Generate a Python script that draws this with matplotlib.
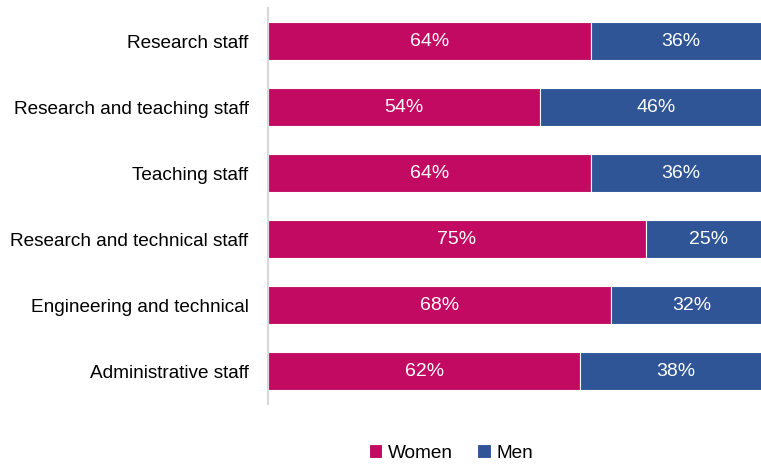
import numpy as np
import matplotlib.pyplot as plt

categories = ["Research staff", "Research and teaching staff", "Teaching staff",
              "Research and technical staff", "Engineering and technical",
              "Administrative staff"]
women = [64, 54, 64, 75, 68, 62]
men = [36, 46, 36, 25, 32, 38]

plt.rcParams['font.family'] = ['Liberation Sans', 'DejaVu Sans']

fig = plt.figure(figsize=(7.61, 4.65), dpi=100)
ax = fig.add_axes([268 / 761, 61 / 465, 504 / 761, 396 / 465])

y = np.arange(len(categories))
h = 0.58
c_w = "#C30A62"
c_m = "#2F5597"
ax.barh(y, women, height=h, color=c_w, edgecolor="white", linewidth=0.8, label="Women")
ax.barh(y, men, left=women, height=h, color=c_m, edgecolor="white", linewidth=0.8, label="Men")

for i in range(len(categories)):
    ax.text(women[i] / 2, y[i], f"{women[i]}%", color="white", ha="center", va="center", fontsize=14)
    ax.text(women[i] + men[i] / 2, y[i], f"{men[i]}%", color="white", ha="center", va="center", fontsize=14)

ax.set_xlim(0, 100)
ax.set_ylim(len(categories) - 0.5, -0.5)
ax.set_yticks(y)
ax.set_yticklabels(categories, fontsize=13.7)
ax.tick_params(axis="y", length=0, pad=14)
ax.set_xticks([])
for s in ["top", "right", "bottom"]:
    ax.spines[s].set_visible(False)
ax.spines["left"].set_color("#D9D9D9")
ax.spines["left"].set_linewidth(1.5)

fig.legend(loc="center", bbox_to_anchor=(451 / 761, 1 - 453 / 465), ncol=2, frameon=False,
           fontsize=13.7, handlelength=0.7, handleheight=0.7, handletextpad=0.3, columnspacing=1.3)

fig.savefig("out.png", dpi=100)
